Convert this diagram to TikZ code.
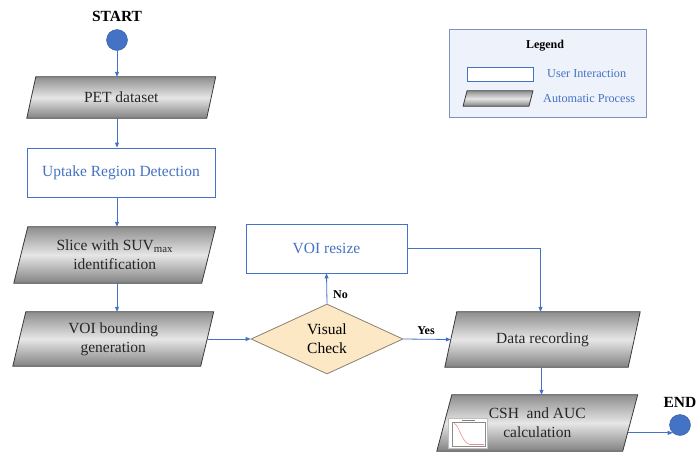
\documentclass[tikz,border=0pt]{standalone}
\usepackage{fontspec}
\setmainfont{Liberation Serif}
\usetikzlibrary{arrows.meta,shapes.geometric,backgrounds,calc}

\definecolor{flowblue}{HTML}{4472C4}
\definecolor{procedge}{HTML}{3A3A3A}
\definecolor{procdark}{HTML}{8E8E8E}
\definecolor{proclight}{HTML}{E6E6E6}
\definecolor{procbottom}{HTML}{828282}
\definecolor{checkfill}{HTML}{FCE8C4}
\definecolor{checkedge}{HTML}{8A8070}
\definecolor{legendfill}{HTML}{EEF2FB}
\definecolor{legendedge}{HTML}{7F8FC0}
\definecolor{curvepink}{HTML}{F08C8C}

\tikzset{
  bodyfont/.style={font=\fontsize{15.5}{19}\selectfont},
  smallbold/.style={font=\fontsize{12}{14}\selectfont\bfseries},
  flow/.style={draw=flowblue, line width=0.8pt, -{Triangle[length=5pt,width=4pt]}},
  terminal/.style={circle, fill=flowblue, draw=flowblue!80!black, line width=0.4pt, minimum size=21pt, inner sep=0pt},
  userbox/.style={rectangle, draw=flowblue, line width=0.8pt, fill=white, text=flowblue, bodyfont, inner sep=0pt, align=center},
  procbox/.style={rectangle, inner sep=0pt, bodyfont, align=center, text=black!85},
  procshape/.style={draw=procedge, line width=0.8pt, top color=procdark, bottom color=procbottom, middle color=proclight},
  check/.style={diamond, draw=checkedge, line width=0.8pt, fill=checkfill, inner sep=0pt, bodyfont, align=center},
  legendbox/.style={rectangle, draw=legendedge, line width=0.8pt, fill=legendfill, inner sep=0pt},
  legendtext/.style={font=\fontsize{12.2}{14}\selectfont, text=flowblue, anchor=west, inner sep=0pt}
}

% slanted automatic-process body around a named node
\newcommand\procback[2]{%
  \path[procshape] ([xshift=#2/2]#1.north west) -- ([xshift=#2/2]#1.north east)
    -- ([xshift=-#2/2]#1.south east) -- ([xshift=-#2/2]#1.south west) -- cycle;}

\begin{document}
\begin{tikzpicture}[x=1pt,y=-1pt]
\useasboundingbox (0,0) rectangle (698,453);

% ---- legend ----
\node[legendbox, minimum width=197pt, minimum height=88pt] (legend) at (547.5,73) {};
\node[smallbold] (legendtitle) at (545,46) {Legend};
\node[rectangle, draw=flowblue, line width=0.8pt, fill=white, minimum width=66pt, minimum height=14pt, inner sep=0pt] (legenduser) at (500,74) {};
\node[rectangle, minimum width=65.5pt, minimum height=15pt, inner sep=0pt] (legendauto) at (498,98.5) {};
\procback{legendauto}{4pt}
\node[legendtext] (legendusertxt) at (547,74) {User Interaction};
\node[legendtext] (legendautotxt) at (543,99) {Automatic Process};

% ---- main flow ----
\node[font=\fontsize{15.5}{19}\selectfont\bfseries] (starttxt) at (117,16) {START};
\node[terminal] (start) at (117,40) {};

\node[procbox, minimum width=179.5pt, minimum height=41pt] (pet) at (121.25,97.5) {PET dataset};
\node[userbox, minimum width=188pt, minimum height=49pt] (uptake) at (121,172.5) {Uptake Region Detection};
\node[procbox, minimum width=187.5pt, minimum height=56pt] (slice) at (114.75,255) {Slice with SUV\textsubscript{max}\\identification};
\node[procbox, minimum width=187.5pt, minimum height=54pt] (bound) at (113.25,339) {VOI bounding\\generation};

\node[check, minimum width=152pt, minimum height=70pt] (check) at (327,339) {Visual\\Check};
\node[userbox, minimum width=161pt, minimum height=49pt] (resize) at (326.5,248.5) {VOI resize};

\node[procbox, minimum width=183pt, minimum height=55pt] (data) at (542.5,339.5) {Data recording};
\node[procbox, minimum width=185.5pt, minimum height=56pt] (csh) at (537.25,423) {CSH\ \ and AUC\\calculation};

\node[font=\fontsize{15.5}{19}\selectfont\bfseries] (endtxt) at (680,402) {END};
\node[terminal] (endc) at (680,425) {};

\node[smallbold] (nolbl) at (340.5,295) {No};
\node[smallbold] (yeslbl) at (426,331) {Yes};

% ---- slanted bodies of the automatic steps ----
\begin{scope}[on background layer]
  \procback{pet}{9pt}
  \procback{slice}{14pt}
  \procback{bound}{13pt}
  \procback{data}{12pt}
  \procback{csh}{15pt}
\end{scope}

% ---- small plot thumbnail inside the last step ----
\node[rectangle, fill=white, draw=black!25, line width=0.4pt, minimum width=39pt, minimum height=30pt, inner sep=0pt] (thumb) at (467.5,433) {};
\draw[black!45, line width=0.3pt] (452,422) rectangle (485,446);
\draw[black!50, line width=0.3pt] (462,420.5) -- (475,420.5);
\draw[curvepink, line width=0.6pt] (454,423.5) .. controls (459,424) and (462,444) .. (470,444.5) -- (484,444.5);

% ---- connectors ----
\draw[flow] (start) -- (start |- pet.north);
\draw[flow] (start |- pet.south) -- (start |- uptake.north);
\draw[flow] (start |- uptake.south) -- (start |- slice.north);
\draw[flow] (start |- slice.south) -- (start |- bound.north);
\draw[flow] (bound.east) -- (check.west);
\draw[flow] (check.north) -- (resize.south);
\draw[flow] (check.east) -- (data.west);
\draw[flow] (resize.east) -| ([xshift=-2pt]data.north);
\draw[flow] ([xshift=-1pt]data.south) -- ([xshift=-1pt]data.south |- csh.north);
\draw[flow] ([xshift=-2.5pt]csh.east |- endc.227) -- (endc.227);

\end{tikzpicture}
\end{document}
